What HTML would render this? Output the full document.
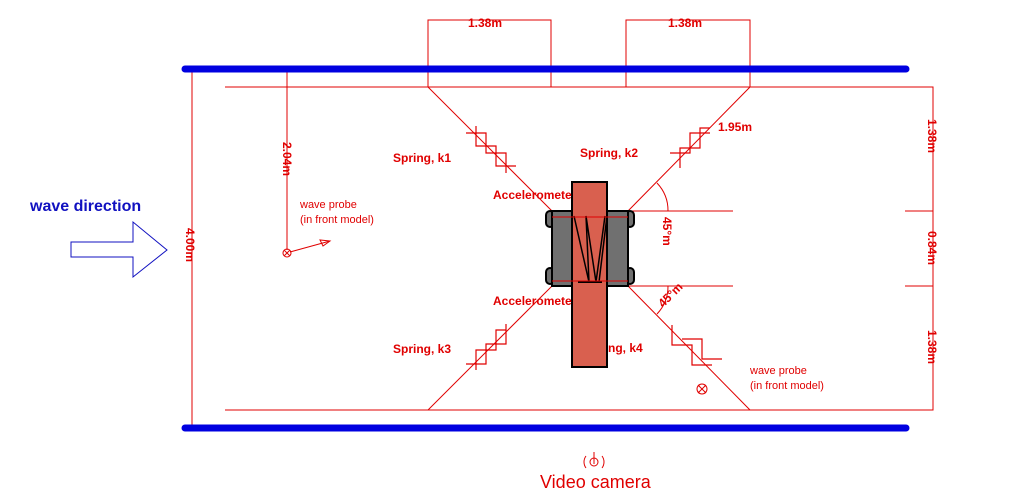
<!DOCTYPE html>
<html><head><style>
html,body{margin:0;padding:0;background:#fff;}
svg{display:block;}
text{font-family:"Liberation Sans",Arial,sans-serif;fill:#e00000;}
</style></head><body>
<svg width="1010" height="498" viewBox="0 0 1010 498" xmlns="http://www.w3.org/2000/svg">
<g stroke="#e00000" stroke-width="1" fill="none">
<polyline points="225,87 933,87 933,410 225,410"/>
<line x1="192" y1="69" x2="192" y2="428"/>
<polyline points="224,69 287,69 287,250"/>
<circle cx="287" cy="253" r="4"/>
<line x1="284" y1="250" x2="290" y2="256"/><line x1="290" y1="250" x2="284" y2="256"/>
<line x1="290" y1="252" x2="330" y2="241"/>
<polygon points="330,241 320,240 323,246"/>
<polyline points="428,87 428,20 551,20 551,87"/>
<polyline points="626,87 626,20 750,20 750,87"/>
<line x1="428" y1="87" x2="552" y2="211"/>
<line x1="750" y1="87" x2="628" y2="211"/>
<line x1="428" y1="410" x2="552" y2="286"/>
<line x1="750" y1="410" x2="628" y2="286"/>
<line x1="628" y1="211" x2="733" y2="211"/>
<line x1="628" y1="286" x2="733" y2="286"/>
<line x1="905" y1="211" x2="933" y2="211"/>
<line x1="905" y1="286" x2="933" y2="286"/>
<path d="M657,183 A40,40 0 0 1 668,211"/>
<path d="M668,286 A40,40 0 0 1 657,314"/>
<path d="M466,133 h20 v20 h20 v20 M476,126 v20 h20 v20 h20" stroke-width="1.2"/>
<path d="M670,153 h20 v-20 h20 M680,168 v-20 h20 v-20 h10" stroke-width="1.2"/>
<path d="M466,364 h20 v-20 h20 v-20 M476,370 v-20 h20 v-20 h10" stroke-width="1.2"/>
<path d="M672,325 v20 h20 v20 h20 M682,339 h20 v20 h20" stroke-width="1.2"/>
<circle cx="702" cy="389" r="5"/>
<line x1="698" y1="385" x2="706" y2="393"/><line x1="706" y1="385" x2="698" y2="393"/>
</g>
<line x1="185" y1="69" x2="906" y2="69" stroke="#0000e0" stroke-width="7" stroke-linecap="round"/>
<line x1="185" y1="428" x2="906" y2="428" stroke="#0000e0" stroke-width="7" stroke-linecap="round"/>
<polygon points="71,242 133,242 133,222 167,250 133,277 133,257 71,257" fill="none" stroke="#1010c0" stroke-width="1"/>
<text x="30" y="211" style="fill:#1010c0;font-size:16px;font-weight:bold">wave direction</text>
<g stroke="#000" stroke-width="2">
<rect x="546" y="211" width="8" height="16" rx="4" fill="#707070"/>
<rect x="626" y="211" width="8" height="16" rx="4" fill="#707070"/>
<rect x="546" y="268" width="8" height="16" rx="4" fill="#707070"/>
<rect x="626" y="268" width="8" height="16" rx="4" fill="#707070"/>
<rect x="552" y="211" width="76" height="75" fill="#707070"/>
<rect x="572" y="182" width="35" height="185" fill="#d9604f"/>
<path d="M574,216 L589,282 L586,216 L596,282 L596,282 L605,216 M599,282 L607,216" stroke-width="1.5" fill="none"/>
<line x1="578" y1="282" x2="602" y2="282" stroke-width="2"/>
</g>
<line x1="552" y1="217" x2="628" y2="217" stroke="#e00000" stroke-width="1"/>
<line x1="552" y1="281" x2="628" y2="281" stroke="#e00000" stroke-width="1"/>
<g font-size="12" font-weight="bold">
<text x="468" y="27">1.38m</text>
<text x="668" y="27">1.38m</text>
<text x="718" y="131">1.95m</text>
<text x="393" y="162">Spring, k1</text>
<text x="580" y="157">Spring, k2</text>
<text x="393" y="353">Spring, k3</text>
<text x="608" y="352">ng, k4</text>
<text x="493" y="199">Acceleromete</text>
<text x="493" y="305">Acceleromete</text>
<text transform="translate(663,217) rotate(90)">45°m</text>
<text transform="translate(663,308) rotate(-45)">45°m</text>
<text transform="translate(283,142) rotate(90)">2.04m</text>
<text transform="translate(186,228) rotate(90)">4.00m</text>
<text transform="translate(928,119) rotate(90)">1.38m</text>
<text transform="translate(928,231) rotate(90)">0.84m</text>
<text transform="translate(928,330) rotate(90)">1.38m</text>
</g>
<g font-size="11">
<text x="300" y="208">wave probe</text>
<text x="300" y="223">(in front model)</text>
<text x="750" y="374">wave probe</text>
<text x="750" y="389">(in front model)</text>
</g>
<g stroke="#e00000" fill="none">
<circle cx="594" cy="462" r="4"/>
<path d="M586,456 A10,10 0 0 0 586,468 M602,456 A10,10 0 0 1 602,468"/>
<line x1="594" y1="452" x2="594" y2="464"/>
</g>
<text x="540" y="488" font-size="18">Video camera</text>
</svg>
</body></html>
